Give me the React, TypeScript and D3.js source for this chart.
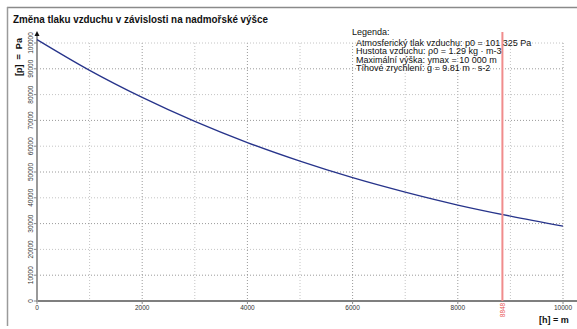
import * as d3 from "d3";

// nadmořská výška [m] a odečtený tlak [Pa]
const heights = [0, 1000, 2000, 3000, 4000, 5000, 6000, 7000, 8000, 9000, 10000];
const pressures = [101325, 89400, 78900, 69600, 61400, 54200, 47800, 42200, 37200, 32900, 29000];

const xTicks = [0, 2000, 4000, 6000, 8000, 10000];
const xGrid = [1000, 2000, 3000, 4000, 5000, 6000, 7000, 8000, 9000, 10000];
const yTicks = [0, 10000, 20000, 30000, 40000, 50000, 60000, 70000, 80000, 90000, 100000];
const everest = 8848;

const title = "Změna tlaku vzduchu v závislosti na nadmořské výšce";
const yLabel = "[p]\u00a0\u00a0=\u00a0\u00a0Pa";
const xLabel = "[h]\u00a0=\u00a0m";
const legendTitle = "Legenda:";
const legendLines = [
  "Atmosferický tlak vzduchu: p0 = 101 325 Pa",
  "Hustota vzduchu: ρ0 = 1.29 kg · m-3",
  "Maximální výška: ymax = 10 000 m",
  "Tíhové zrychlení: g = 9.81 m · s-2",
];

const W = 577;
const H = 329;
const FONT = "'Liberation Sans', Arial, sans-serif";

export default function App() {
  const x = d3.scaleLinear().domain([0, 10000]).range([37, 563]);
  const y = d3.scaleLinear().domain([0, 100000]).range([301, 43]);

  const line = d3
    .line<number>()
    .x((_, i) => x(heights[i]))
    .y((d) => y(d))
    .curve(d3.curveMonotoneX);

  const top = y(100000);
  const bottom = y(0);

  return (
    <svg
      width={W}
      height={H}
      style={{ position: "absolute", left: 0, top: 0, background: "#fff" }}
      fontFamily={FONT}
    >
      {/* rámeček */}
      <line x1={7} y1={7.5} x2={W} y2={7.5} stroke="#8a8a8a" strokeWidth={1.5} />
      <line x1={7.5} y1={7} x2={7.5} y2={326} stroke="#9a9a9a" strokeWidth={1.5} />

      <text x={13} y={23} fontSize={10} fontWeight="bold" fill="#111" textLength={255} lengthAdjust="spacingAndGlyphs">
        {title}
      </text>

      {/* mřížka */}
      {xGrid.map((t) => (
        <line
          key={"gx" + t}
          x1={x(t)}
          x2={x(t)}
          y1={top}
          y2={bottom}
          stroke={t % 2000 === 0 ? "#9a9a9a" : "#c4c4c4"}
          strokeDasharray="1,2"
        />
      ))}
      {yTicks.slice(1).map((t) => (
        <line
          key={"gy" + t}
          x1={x(0)}
          x2={x(10000)}
          y1={y(t)}
          y2={y(t)}
          stroke={t % 20000 === 0 ? "#c4c4c4" : "#9a9a9a"}
          strokeDasharray="1,2"
        />
      ))}

      {/* osy */}
      <line x1={x(0)} x2={W} y1={bottom} y2={bottom} stroke="#555" strokeWidth={1.5} />
      {xTicks.map((t) => (
        <line key={"tx" + t} x1={x(t)} x2={x(t)} y1={bottom} y2={bottom + 3} stroke="#888" />
      ))}
      <line x1={x(0)} x2={x(0)} y1={bottom + 1} y2={35} stroke="#999" strokeWidth={2} />
      <path d={`M${x(0) - 2.5},36 L${x(0) + 2.5},36 L${x(0)},31 Z`} fill="#111" />
      {yTicks.map((t) => (
        <line key={"ty" + t} x1={x(0) - 3} x2={x(0)} y1={y(t)} y2={y(t)} stroke="#888" />
      ))}

      {/* popisky os */}
      {xTicks.map((t) => (
        <text key={"lx" + t} x={x(t)} y={310} fontSize={6.5} textAnchor="middle" fill="#333">
          {t}
        </text>
      ))}
      {yTicks.map((t) => (
        <text
          key={"ly" + t}
          transform={`translate(32.5,${y(t)}) rotate(-90)`}
          fontSize={6.5}
          textAnchor="middle"
          fill="#333"
        >
          {t}
        </text>
      ))}
      <text transform="translate(22,57) rotate(-90)" fontSize={9} fontWeight="bold" textAnchor="middle" fill="#111">
        {yLabel}
      </text>
      <text x={539} y={323} fontSize={9} fontWeight="bold" fill="#111">
        {xLabel}
      </text>

      {/* křivka */}
      <path d={line(pressures) ?? ""} fill="none" stroke="#27348b" strokeWidth={1.3} />

      {/* Mount Everest */}
      <line x1={x(everest)} x2={x(everest)} y1={32} y2={bottom} stroke="#f08c8c" strokeWidth={2} />
      <text
        transform={`translate(${x(everest) + 2.3},310) rotate(-90)`}
        fontSize={6.5}
        textAnchor="middle"
        fill="#e85050"
      >
        {everest}
      </text>

      {/* legenda */}
      <text x={352} y={35} fontSize={9} fill="#111">
        {legendTitle}
      </text>
      {legendLines.map((s, i) => (
        <text key={s} x={356} y={45.5 + i * 8.6} fontSize={9} fill="#111">
          {s}
        </text>
      ))}
    </svg>
  );
}
